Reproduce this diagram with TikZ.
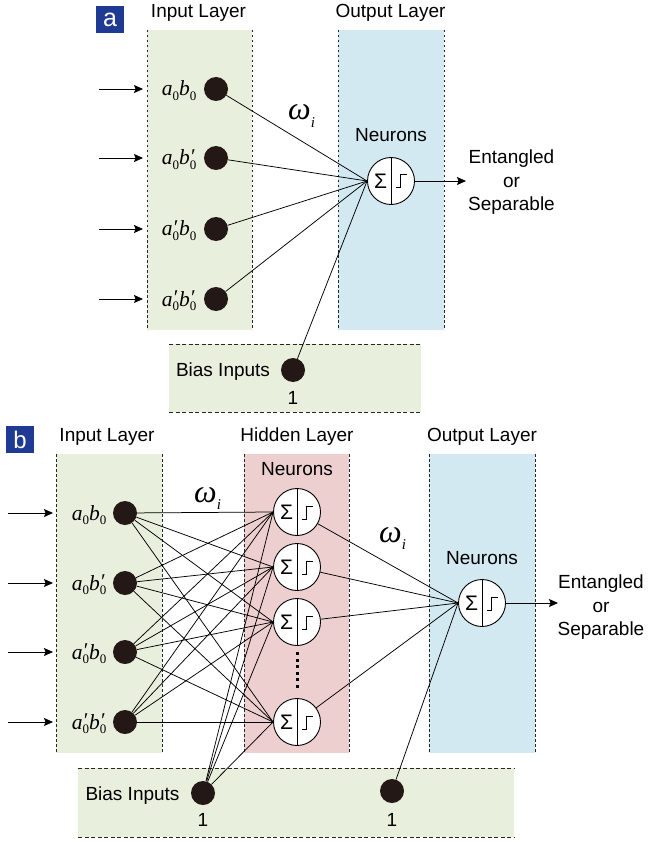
\documentclass[tikz,border=0pt]{standalone}
\usepackage{fontspec}
\setmainfont{Liberation Sans}
\newfontfamily\tms{Liberation Serif}
\usetikzlibrary{arrows.meta}
\definecolor{ingreen}{HTML}{E8F0DD}
\definecolor{outblue}{HTML}{D3E9F1}
\definecolor{hidpink}{HTML}{EECFCF}
\definecolor{tagblue}{HTML}{1F3A93}
\definecolor{nodedark}{HTML}{231815}
\newcommand{\lz}{\raisebox{-0.2em}{\fontsize{13}{13}\selectfont\upshape 0}}
\newcommand{\lzp}{\rlap{\raisebox{0.05em}{\fontsize{21}{21}\selectfont ′}}\lz}
\newcommand{\inlab}{\tms\itshape\fontsize{21.5}{21.5}\selectfont}
\newcommand{\wlab}{{\tms\itshape\fontsize{32}{32}\selectfont ω\raisebox{-0.22em}{\fontsize{15}{15}\selectfont i}}}
\begin{document}
\begin{tikzpicture}[x=1pt,y=-1pt,
  lbl/.style={font=\fontsize{19}{23.5}\selectfont, inner sep=0pt},
  vdash/.style={draw=black!85, line width=0.8pt, dash pattern=on 2.5pt off 2.5pt},
  hdash/.style={draw=black!85, line width=0.8pt, dash pattern=on 4pt off 2.5pt},
  inp/.style={circle, fill=nodedark, minimum size=24pt, inner sep=0pt},
  neuron/.style={circle, draw, fill=white, minimum size=47pt, inner sep=0pt, line width=0.9pt},
  sig/.style={inner sep=0pt, font=\fontsize{21}{21}\selectfont},
  conn/.style={line width=0.75pt},
  arr/.style={-{Stealth[length=9pt,width=8pt,inset=1.5pt]}, line width=0.8pt},
  tag/.style={fill=tagblue, text=white, minimum width=28pt, minimum height=27pt, inner sep=0pt},
  dotsy/.style={line width=3pt, dash pattern=on 3pt off 3.5pt}
]
\useasboundingbox (0,0) rectangle (647,842);

% ---------------- panel a: boxes ----------------
\fill[ingreen] (147,30) rectangle (252,330);
\draw[vdash] (147,30) -- (147,330);
\draw[vdash] (252,30) -- (252,330);
\fill[outblue] (338,30) rectangle (444,330);
\draw[vdash] (338,30) -- (338,330);
\draw[vdash] (444,30) -- (444,330);
\fill[ingreen] (169,344) rectangle (421,412);
\draw[hdash] (169,344) -- (421,344);
\draw[hdash] (169,412) -- (421,412);

% ---------------- panel a: nodes ----------------
\node[tag, font=\fontsize{25}{25}\selectfont] (taga) at (110,19.5) {a};
\node[lbl, anchor=base] (ila) at (198.5,18) {Input Layer};
\node[lbl, anchor=base] (ola) at (390.5,18) {Output Layer};
\node[lbl, anchor=base] (nra) at (391,142) {Neurons};

\node[inp] (a1) at (216,89) {};
\node[inp] (a2) at (216,158) {};
\node[inp] (a3) at (216,229) {};
\node[inp] (a4) at (216,299) {};
\node[anchor=base, inner sep=0pt] (la1) at (179,96) {\inlab a\lz b\lz};
\node[anchor=base, inner sep=0pt] (la2) at (179,165) {\inlab a\lz b\lzp};
\node[anchor=base, inner sep=0pt] (la3) at (179,236) {\inlab a\lzp b\lz};
\node[anchor=base, inner sep=0pt] (la4) at (179,306) {\inlab a\lzp b\lzp};

\node[neuron] (an) at (391,181) {};
\node[inp] (ab) at (293,370) {};
\node[lbl, anchor=base] (bla) at (223,376) {Bias Inputs};
\node[lbl, anchor=base] (ona) at (293,404) {1};
\node[anchor=base west, inner sep=0pt] (wa) at (288,120) {\wlab};
\node[lbl, align=center] (resa) at (511.5,182.5) {Entangled\\or\\Separable};

\foreach \i/\y in {1/89,2/158,3/229,4/299}{
  \coordinate (sa\i) at (99,\y);
  \coordinate (ea\i) at (143,\y);
  \draw[arr] (sa\i) -- (ea\i);
  \draw[conn] (a\i) -- (an.west);
}
\draw[conn] (ab) -- (an.west);
\coordinate (outa) at (466,181);
\draw[arr] (an.east) -- (outa);

% ---------------- panel b: boxes ----------------
\fill[ingreen] (56,454) rectangle (162,753);
\draw[vdash] (56,454) -- (56,753);
\draw[vdash] (162,454) -- (162,753);
\fill[hidpink] (244,454) rectangle (349,753);
\draw[vdash] (244,454) -- (244,753);
\draw[vdash] (349,454) -- (349,753);
\fill[outblue] (429,454) rectangle (535,753);
\draw[vdash] (429,454) -- (429,753);
\draw[vdash] (535,454) -- (535,753);
\fill[ingreen] (78,768) rectangle (514,837);
\draw[hdash] (78,768) -- (514,768);
\draw[hdash] (78,837) -- (514,837);

% ---------------- panel b: nodes ----------------
\node[tag, font=\fontsize{24}{24}\selectfont] (tagb) at (20,439.5) {b};
\node[lbl, anchor=base] (ilb) at (107,441.7) {Input Layer};
\node[lbl, anchor=base] (hlb) at (297,441.7) {Hidden Layer};
\node[lbl, anchor=base] (olb) at (482,441.7) {Output Layer};
\node[lbl, anchor=base] (nrh) at (297,475) {Neurons};
\node[lbl, anchor=base] (nro) at (482,564) {Neurons};

\node[inp] (b1) at (125,513) {};
\node[inp] (b2) at (125,583) {};
\node[inp] (b3) at (125,652) {};
\node[inp] (b4) at (125,722) {};
\node[anchor=base, inner sep=0pt] (lb1) at (89,520) {\inlab a\lz b\lz};
\node[anchor=base, inner sep=0pt] (lb2) at (89,590) {\inlab a\lz b\lzp};
\node[anchor=base, inner sep=0pt] (lb3) at (89,659) {\inlab a\lzp b\lz};
\node[anchor=base, inner sep=0pt] (lb4) at (89,729) {\inlab a\lzp b\lzp};

\node[neuron] (h1) at (297,512) {};
\node[neuron] (h2) at (297,567) {};
\node[neuron] (h3) at (297,622) {};
\node[neuron] (h4) at (297,722) {};
\node[neuron] (bo) at (482,603) {};

\node[inp] (bb1) at (203,793) {};
\node[inp] (bb2) at (392,791) {};
\node[lbl, anchor=base] (blb) at (132.5,800) {Bias Inputs};
\node[lbl, anchor=base] (onb1) at (203,826.7) {1};
\node[lbl, anchor=base] (onb2) at (392,826.7) {1};
\node[anchor=base west, inner sep=0pt] (wb1) at (194,502) {\wlab};
\node[anchor=base west, inner sep=0pt] (wb2) at (379,542) {\wlab};
\node[lbl, align=center] (resb) at (601,607.5) {Entangled\\or\\Separable};

\draw[dotsy, shorten <=6.5pt, shorten >=8.5pt] (h3.south) -- (h4.north);

\foreach \i/\y in {1/513,2/583,3/652,4/722}{
  \coordinate (sb\i) at (8,\y);
  \coordinate (eb\i) at (53,\y);
  \draw[arr] (sb\i) -- (eb\i);
  \foreach \j in {1,2,3,4}{
    \draw[conn] (b\i) -- (h\j.west);
  }
}
\foreach \j in {1,2,3,4}{
  \draw[conn] (bb1) -- (h\j.west);
  \draw[conn] (h\j) -- (bo.west);
}
\draw[conn] (bb2) -- (bo.west);
\coordinate (outb) at (558,603);
\draw[arr] (bo.east) -- (outb);

% ---------------- neuron symbols ----------------
\foreach \n in {an,h1,h2,h3,h4,bo}{
  \draw[line width=0.9pt] (\n.north) -- (\n.south);
  \node[sig] (\n-s) at ([xshift=-10.5pt]\n.center) {Σ};
  \draw[line width=1pt] ([xshift=5pt,yshift=-7pt]\n.center) -- ++(4.5pt,0pt) -- ++(0pt,13pt) -- ++(6pt,0pt);
}
\end{tikzpicture}
\end{document}
